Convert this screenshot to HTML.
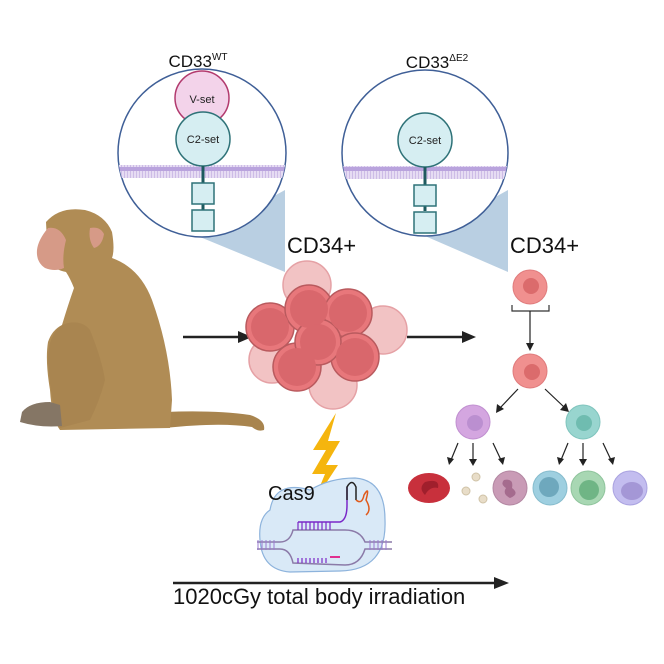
<!DOCTYPE html>
<html><head><meta charset="utf-8"><style>body{margin:0;background:#fff}svg{display:block}text{font-family:"Liberation Sans",sans-serif}</style></head><body>
<svg width="664" height="664" viewBox="0 0 664 664" xmlns="http://www.w3.org/2000/svg">
<defs>
<pattern id="mem" width="3" height="13" patternUnits="userSpaceOnUse"><rect width="3" height="13" fill="#e6dcf3"/><rect x="1" width="1" height="13" fill="#cdbce6"/><rect width="3" height="2" fill="#b9a3dd"/><rect y="11" width="3" height="2" fill="#b9a3dd"/></pattern>
<clipPath id="c1"><circle cx="202" cy="153" r="84"/></clipPath>
<clipPath id="c2"><circle cx="425" cy="153" r="83"/></clipPath>
</defs>
<polygon points="200,237 285,272 285,190" fill="#b9cfe2"/>
<polygon points="425,236 508,272 508,190" fill="#b9cfe2"/>
<circle cx="202" cy="153" r="84" fill="#fff" stroke="#3f5f97" stroke-width="1.5"/>
<rect x="110" y="165" width="190" height="13" fill="url(#mem)" clip-path="url(#c1)"/>
<circle cx="202" cy="98" r="27" fill="#f3d3ea" stroke="#b23a6e" stroke-width="1.5"/>
<text x="202" y="103" font-size="11" text-anchor="middle" fill="#222">V-set</text>
<circle cx="203" cy="139" r="27" fill="#d6eef2" stroke="#2e7278" stroke-width="1.5"/>
<text x="203" y="143" font-size="11" text-anchor="middle" fill="#222">C2-set</text>
<rect x="201.5" y="166" width="3" height="44" fill="#1e5a5f"/>
<rect x="192" y="183" width="22" height="21" fill="#d6eef2" stroke="#2e7278" stroke-width="1.5"/>
<rect x="192" y="210" width="22" height="21" fill="#d6eef2" stroke="#2e7278" stroke-width="1.5"/>
<text x="198" y="67" font-size="17" text-anchor="middle" fill="#111">CD33<tspan font-size="10" dy="-7">WT</tspan></text>
<circle cx="425" cy="153" r="83" fill="#fff" stroke="#3f5f97" stroke-width="1.5"/>
<rect x="340" y="166" width="170" height="13" fill="url(#mem)" clip-path="url(#c2)"/>
<circle cx="425" cy="140" r="27" fill="#d6eef2" stroke="#2e7278" stroke-width="1.5"/>
<text x="425" y="144" font-size="11" text-anchor="middle" fill="#222">C2-set</text>
<rect x="423.5" y="167" width="3" height="44" fill="#1e5a5f"/>
<rect x="414" y="185" width="22" height="21" fill="#d6eef2" stroke="#2e7278" stroke-width="1.5"/>
<rect x="414" y="212" width="22" height="21" fill="#d6eef2" stroke="#2e7278" stroke-width="1.5"/>
<text x="437" y="68" font-size="17" text-anchor="middle" fill="#111">CD33<tspan font-size="10" dy="-7">ΔE2</tspan></text>
<text x="287" y="253" font-size="22" fill="#111">CD34+</text>
<text x="510" y="253" font-size="22" fill="#111">CD34+</text>
<!-- monkey -->
<path d="M165,412 Q215,410 250,415 Q266,420 264,430 Q258,432 252,427 Q220,422 165,428Z" fill="#a8844e"/>
<path d="M46,222 Q60,206 85,210 Q105,215 112,232 Q115,250 112,258 Q140,268 152,300 Q170,350 172,400 L170,428 L60,430 Q52,420 50,390 Q45,360 48,342 Q52,330 62,325 Q68,305 74,288 Q70,278 66,272 Q55,270 48,262 Z" fill="#b08c55"/>
<path d="M62,325 Q80,318 90,330 Q102,360 105,380 Q100,400 90,420 L60,428 Q50,400 48,360 Q48,335 62,325Z" fill="#a98550"/>
<path d="M48,228 Q38,240 37,250 Q36,262 45,268 Q55,272 64,268 Q62,256 66,240 Q60,226 48,228Z" fill="#d69a87"/>
<path d="M90,228 Q100,226 104,234 Q102,246 94,248 Q88,240 90,228Z" fill="#d69a87"/>
<path d="M22,412 Q30,402 50,402 L60,405 L62,426 Q40,428 20,422Z" fill="#857665"/>
<!-- arrows -->
<line x1="183" y1="337" x2="240" y2="337" stroke="#222" stroke-width="2.5"/><polygon points="252,337 238,331 238,343" fill="#222"/>
<line x1="407" y1="337" x2="464" y2="337" stroke="#222" stroke-width="2.5"/><polygon points="476,337 462,331 462,343" fill="#222"/>
<g stroke="#e5a1a5" stroke-width="1.5" fill="#f2c3c4">
<circle cx="307" cy="285" r="24"/><circle cx="383" cy="330" r="24"/><circle cx="333" cy="385" r="24"/><circle cx="272" cy="360" r="23"/>
</g>
<g fill="#e8777b" stroke="#b95a5e" stroke-width="1.5">
<circle cx="270" cy="327" r="24"/><circle cx="309" cy="309" r="24"/><circle cx="348" cy="313" r="24"/><circle cx="355" cy="357" r="24"/><circle cx="297" cy="367" r="24"/><circle cx="318" cy="342" r="23"/>
</g>
<g fill="#d9676c"><circle cx="270" cy="327" r="19"/><circle cx="309" cy="309" r="19"/><circle cx="348" cy="313" r="19"/><circle cx="355" cy="357" r="19"/><circle cx="297" cy="367" r="19"/><circle cx="318" cy="342" r="18"/></g>
<polygon points="336,413 313,450 326,450 312,474 325,474 313,503 338,465 326,465 340,441 328,441" fill="#f5b50e"/>
<path d="M270,510 Q275,480 310,490 Q330,478 355,478 Q385,480 385,520 Q387,570 340,571 L290,572 Q262,570 260,540 Q258,518 270,510Z" fill="#d9e9f7" stroke="#8db3dc" stroke-width="1.2"/>
<text x="268" y="500" font-size="20" fill="#111">Cas9</text>
<g stroke="#8b7aa8" stroke-width="1.5" fill="none">
<path d="M257,542 L280,542 Q290,542 293,530 L345,530"/><path d="M257,549 L280,549 Q290,549 293,563 L345,565 Q360,565 365,549 L392,549"/>
<path d="M345,530 Q360,530 365,542 L392,542"/>
</g>
<g stroke="#9a7bd0" stroke-width="1"><path d="M258,540v10M262,540v10M266,540v10M270,540v10M274,540v10M370,540v10M374,540v10M378,540v10M382,540v10M386,540v10"/></g>
<g stroke="#7a28c8" stroke-width="1.2"><path d="M298,522v8M302,522v8M306,522v8M310,522v8M314,522v8M318,522v8M322,522v8M326,522v8M330,522v8M298,558v5M302,558v5M306,558v5M310,558v5M314,558v5M318,558v5M322,558v5M326,558v5"/></g>
<path d="M298,522 H340 Q347,520 347,505 V487" stroke="#7a28c8" stroke-width="1.5" fill="none"/>
<path d="M347,500 V487 Q352,478 356,487 V500" stroke="#222" stroke-width="1.5" fill="none"/>
<path d="M356,500 Q362,505 364,495 Q370,485 366,500 Q372,510 366,515" stroke="#e05a1c" stroke-width="1.5" fill="none"/>
<path d="M330,557 H340" stroke="#e03090" stroke-width="2"/>
<line x1="173" y1="583" x2="496" y2="583" stroke="#222" stroke-width="2.5"/><polygon points="509,583 494,577 494,589" fill="#222"/>
<text x="173" y="604" font-size="22" fill="#111">1020cGy total body irradiation</text>
<circle cx="530" cy="287" r="17" fill="#f0908f" stroke="#e07b7c"/><circle cx="531" cy="286" r="8" fill="#db6b6c"/>
<path d="M512,305 V311 H549 V305" stroke="#333" stroke-width="1.2" fill="none"/>
<line x1="530" y1="311" x2="530" y2="345" stroke="#222" stroke-width="1.2"/><polygon points="530,351 526,343 534,343" fill="#222"/>
<circle cx="530" cy="371" r="17" fill="#f0908f" stroke="#e07b7c"/><circle cx="532" cy="372" r="8" fill="#db6b6c"/>
<g stroke="#222" stroke-width="1.2"><line x1="518" y1="389" x2="500" y2="408"/><line x1="545" y1="389" x2="564" y2="407"/>
<line x1="458" y1="443" x2="451" y2="460"/><line x1="473" y1="443" x2="473" y2="460"/><line x1="493" y1="443" x2="501" y2="460"/>
<line x1="568" y1="443" x2="561" y2="460"/><line x1="583" y1="443" x2="583" y2="460"/><line x1="603" y1="443" x2="611" y2="460"/></g>
<g fill="#222"><polygon points="496,413 497,404 504,409"/><polygon points="569,412 560,410 566,403"/>
<polygon points="449,465 447,457 454,459"/><polygon points="473,466 469,459 477,459"/><polygon points="503,465 498,459 505,457"/>
<polygon points="559,465 557,457 564,459"/><polygon points="583,466 579,459 587,459"/><polygon points="613,465 608,459 615,457"/></g>
<circle cx="473" cy="422" r="17" fill="#d4a6e0" stroke="#c08fd0"/><circle cx="475" cy="423" r="8" fill="#bb8fd0"/>
<circle cx="583" cy="422" r="17" fill="#98d5cf" stroke="#7fc4bd"/><circle cx="584" cy="423" r="8" fill="#6fbcb0"/>
<ellipse cx="429" cy="488" rx="21" ry="15" fill="#c8303c"/><path d="M425,482 Q440,478 438,488 Q430,486 425,495 Q418,488 425,482Z" fill="#a01f2c"/>
<g fill="#e8ddc8" stroke="#cfc2a6"><circle cx="476" cy="477" r="4"/><circle cx="466" cy="491" r="4"/><circle cx="483" cy="499" r="4"/></g>
<circle cx="510" cy="488" r="17" fill="#c99bb6" stroke="#b387a2"/><path d="M504,480 Q514,478 512,488 Q520,494 510,498 Q502,494 506,488 Q500,484 504,480Z" fill="#a56b8e"/>
<circle cx="550" cy="488" r="17" fill="#9ecfe0" stroke="#86bccd"/><circle cx="549" cy="487" r="10" fill="#6ea8bd"/>
<circle cx="588" cy="488" r="17" fill="#a8d7b3" stroke="#8fc49c"/><circle cx="589" cy="490" r="10" fill="#6fb585"/>
<circle cx="630" cy="488" r="17" fill="#c3bdef" stroke="#a9a2e0"/><ellipse cx="632" cy="491" rx="11" ry="9" fill="#a497d6"/>
</svg>
</body></html>
